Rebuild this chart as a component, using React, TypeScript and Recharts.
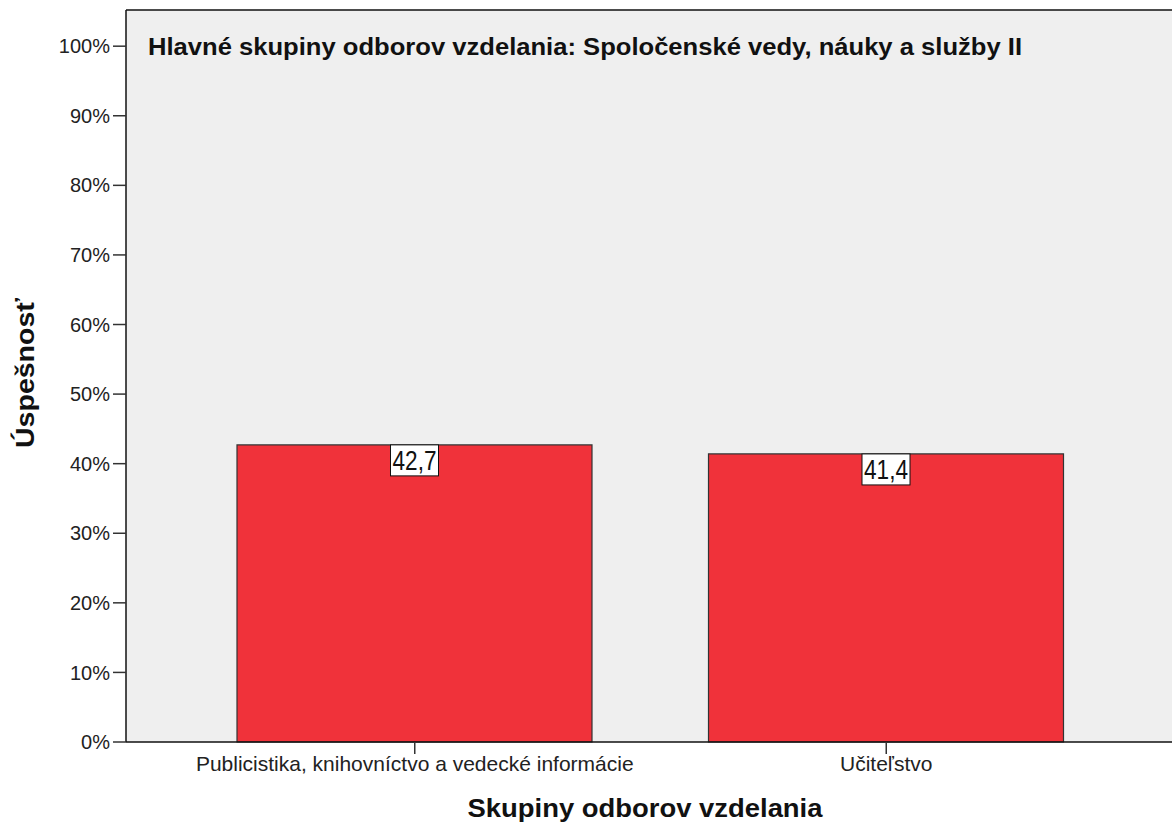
import React from 'react';
import { BarChart, Bar, XAxis, YAxis, CartesianGrid, ReferenceLine, LabelList, Customized, Label } from 'recharts';

const categories = ['Publicistika, knihovníctvo a vedecké informácie', 'Učiteľstvo'];
const values = [42.7, 41.4];
const yTicks = [0, 10, 20, 30, 40, 50, 60, 70, 80, 90, 100];
const yMax = 105.2;
const chartTitle = 'Hlavné skupiny odborov vzdelania: Spoločenské vedy, náuky a služby II';
const xTitle = 'Skupiny odborov vzdelania';
const yTitle = 'Úspešnosť';

const data = categories.map((name, i) => ({ name, value: values[i] }));

const FONT = '"Liberation Sans", Arial, sans-serif';

const ValueLabel = (props: any) => {
  const { x, y, width, value } = props;
  const cx = x + width / 2;
  const txt = String(value).replace('.', ',');
  return (
    <g>
      <rect x={cx - 24} y={y} width={48} height={31} fill="#ffffff" stroke="#111" strokeWidth={1} />
      <text x={cx} y={y + 25} textAnchor="middle" fontFamily={FONT} fontSize={27} fill="#111" textLength={44} lengthAdjust="spacingAndGlyphs">
        {txt}
      </text>
    </g>
  );
};

const TitleLayer = (props: any) => {
  const off = props.offset || {};
  const left = off.left ?? 126;
  const top = off.top ?? 10;
  return (
    <text x={left + 22} y={top + 45} fontFamily={FONT} fontWeight="bold" fontSize={23} fill="#111" textLength={874} lengthAdjust="spacingAndGlyphs">
      {chartTitle}
    </text>
  );
};

export default function App() {
  return (
    <div style={{ position: 'absolute', left: 0, top: 0, width: 1172, height: 825, background: '#fff' }}>
      <BarChart width={1172} height={825} data={data} margin={{ top: 10, right: 0, bottom: 0, left: 0 }}>
        <CartesianGrid fill="#efefef" horizontal={false} vertical={false} stroke="none" />
        <XAxis
          dataKey="name"
          height={83}
          padding={{ left: 53, right: 50 }}
          tickSize={12}
          tickMargin={2}
          axisLine={{ stroke: '#111', strokeWidth: 1.5 }}
          tickLine={{ stroke: '#333', strokeWidth: 1.5 }}
          tick={{ fill: '#222', fontSize: 21, fontFamily: FONT }}
          interval={0}
        >
          <Label
            content={(p: any) => {
              const vb = p.viewBox;
              const cx = vb.x + vb.width / 2 - 4;
              return (
                <text x={cx} y={817} textAnchor="middle" fontFamily={FONT} fontWeight="bold" fontSize={26} fill="#111" textLength={355} lengthAdjust="spacingAndGlyphs">
                  {xTitle}
                </text>
              );
            }}
          />
        </XAxis>
        <YAxis
          width={126}
          domain={[0, yMax]}
          ticks={yTicks}
          tickFormatter={(v: number) => `${v}%`}
          tickSize={13}
          tickMargin={3}
          axisLine={{ stroke: '#111', strokeWidth: 1.5 }}
          tickLine={{ stroke: '#333', strokeWidth: 1.5 }}
          tick={{ fill: '#222', fontSize: 20, fontFamily: FONT }}
        >
          <Label
            content={() => {
              const cy = 373;
              const bx = 34;
              return (
                <text x={bx} y={cy} transform={`rotate(-90 ${bx} ${cy})`} textAnchor="middle" fontFamily={FONT} fontWeight="bold" fontSize={25} fill="#111" textLength={150} lengthAdjust="spacingAndGlyphs">
                  {yTitle}
                </text>
              );
            }}
          />
        </YAxis>
        <ReferenceLine y={yMax} stroke="#111" strokeWidth={1.5} />
        <Bar dataKey="value" fill="#f0323a" stroke="#333" strokeWidth={1.2} barSize={355} isAnimationActive={false}>
          <LabelList dataKey="value" content={ValueLabel} />
        </Bar>
        <Customized component={TitleLayer} />
      </BarChart>
    </div>
  );
}
